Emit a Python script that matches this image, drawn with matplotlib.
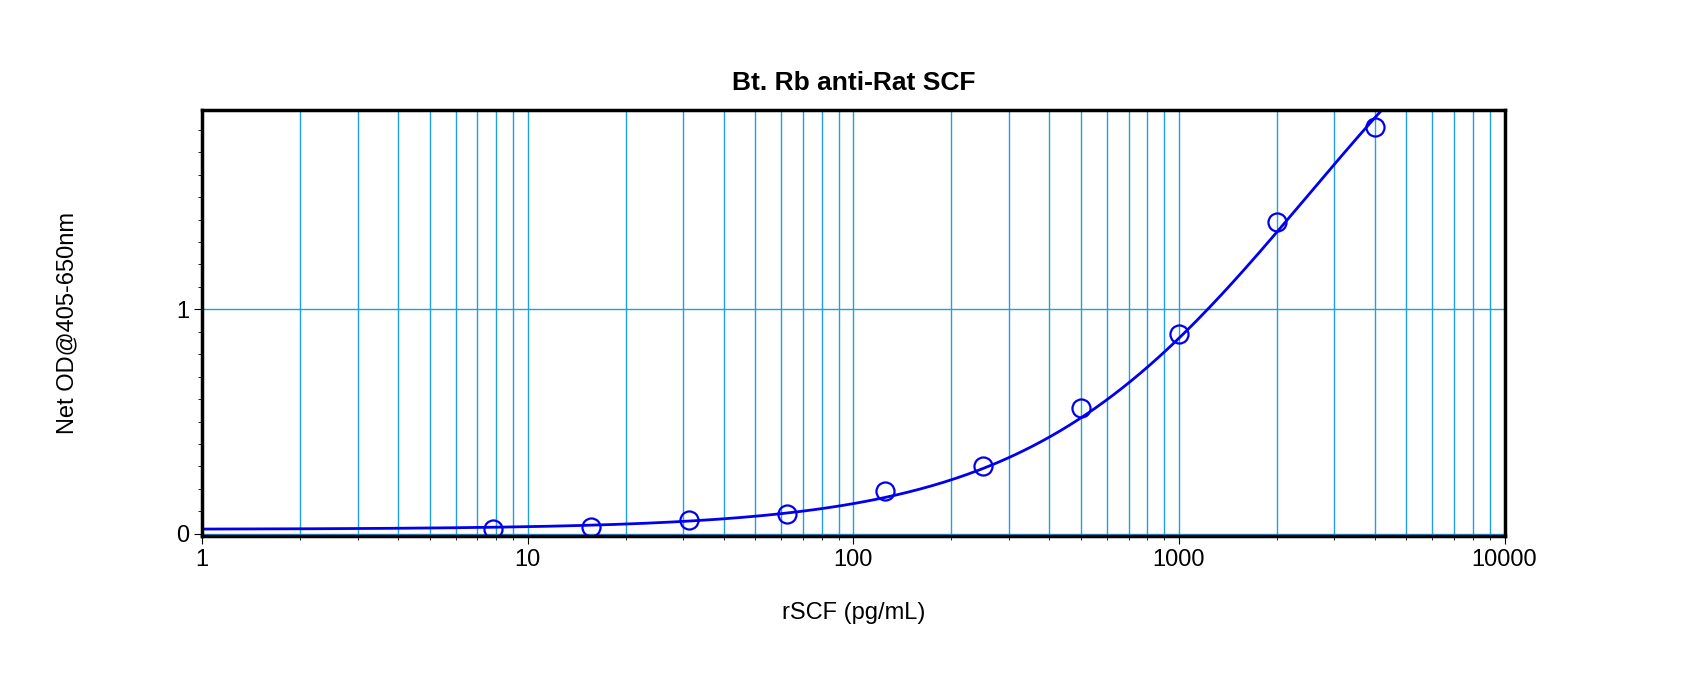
import matplotlib.pyplot as plt
import numpy as np
from matplotlib.ticker import FixedLocator, NullFormatter, FuncFormatter

plt.rcParams['font.family'] = ['Liberation Sans', 'DejaVu Sans']

# Data
conc = [7.8, 15.6, 31.25, 62.5, 125, 250, 500, 1000, 2000, 4000]
od = [0.02, 0.03, 0.06, 0.09, 0.19, 0.30, 0.56, 0.89, 1.39, 1.81]

# 4PL fit parameters (estimated)
fit_a, fit_b, fit_c, fit_d = 0.02, 1.0, 2500.0, 3.0

fig = plt.figure(figsize=(17, 6.76), dpi=100)
ax = fig.add_axes([0.119, 0.207, 0.766, 0.631])

xs = np.logspace(0, np.log10(4600), 400)
ys = fit_d + (fit_a - fit_d) / (1 + (xs / fit_c) ** fit_b)
ax.plot(xs, ys, color='#0000ee', lw=2)
ax.plot(conc, od, 'o', ms=13, mfc='none', mec='#0000ee', mew=1.6)

ax.set_xscale('log')
ax.set_xlim(1, 10000)
ax.set_ylim(-0.01, 1.89)
ax.grid(True, which='both', color='#1ea0e6', lw=1)
ax.yaxis.set_major_locator(FixedLocator([0, 1]))
ax.yaxis.set_minor_locator(FixedLocator(np.arange(0.1, 1.9, 0.1)))
ax.grid(False, which='minor', axis='y')
ax.xaxis.set_major_formatter(FuncFormatter(lambda v, p: f'{v:g}'))
ax.xaxis.set_minor_formatter(NullFormatter())
ax.tick_params(labelsize=17, length=6)
ax.tick_params(which='minor', length=3)
for s in ax.spines.values():
    s.set_linewidth(2.5)

ax.set_title('Bt. Rb anti-Rat SCF', fontsize=19, fontweight='bold', pad=14)
ax.set_xlabel('rSCF (pg/mL)', fontsize=17, labelpad=22)
ax.set_ylabel('Net OD@405-650nm', fontsize=17, labelpad=70)

fig.savefig('out.png')
